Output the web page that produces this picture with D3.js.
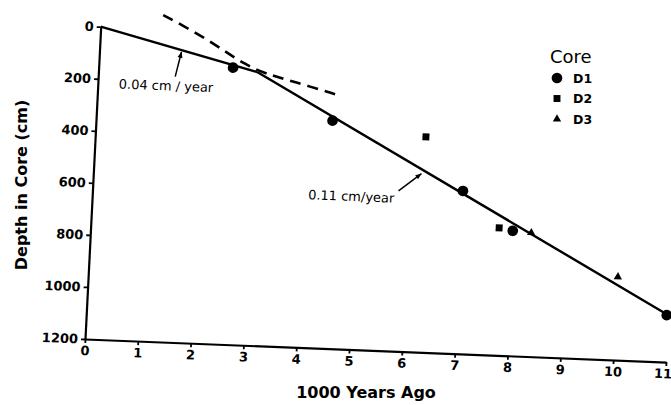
<!DOCTYPE html>
<html>
<head>
<meta charset="utf-8">
<script src="https://cdn.jsdelivr.net/npm/d3@7"></script>
<style>
  html, body { margin: 0; padding: 0; background: #fff; }
  svg { display: block; }
</style>
</head>
<body>
<svg id="chart" width="671" height="405"></svg>
<script>
// ---- data ----
const xTicks = [0, 1, 2, 3, 4, 5, 6, 7, 8, 9, 10, 11];
const yTicks = [0, 200, 400, 600, 800, 1000, 1200];

const d1Age   = [2.54, 4.47, 7.0, 7.98, 10.97];
const d1Depth = [137, 325, 575, 720, 1020];
const d2Age   = [6.25, 7.72];
const d2Depth = [373, 711];
const d3Age   = [8.33, 10.01];
const d3Depth = [725, 881];

const upperFitAge   = [0, 3.0];
const upperFitDepth = [0, 150];
const lowerFitAge   = [3.0, 11];
const lowerFitDepth = [150, 1020];

const dashAge   = [1.17, 2.01, 2.80, 3.31, 3.69, 4.55];
const dashDepth = [-54, 28, 131, 163, 181, 226];

const legendLabels = ["D1", "D2", "D3"];
const rateLabels = ["0.04 cm / year", "0.11 cm/year"];
const rateAge = [1.55, 6.2];
const rateDepth = [84, 515];

// ---- drawing ----
const svg = d3.select("#chart");
const W = 581, H = 312.3;
const x = d3.scaleLinear().domain([0, 11]).range([0, W]);
const y = d3.scaleLinear().domain([0, 1200]).range([-H, 0]);

// the scanned figure is slightly skewed; reproduce with an affine transform
const g = svg.append("g")
  .attr("transform", "matrix(1,0.0396,-0.0503,1,85,339)");

const tickFont = "'DejaVu Sans', sans-serif";

const xAxis = d3.axisBottom(x).tickValues(xTicks).tickFormat(d3.format("d"))
  .tickSizeInner(4).tickSizeOuter(0).tickPadding(3);
const yAxis = d3.axisLeft(y).tickValues(yTicks).tickFormat(d3.format("d"))
  .tickSizeInner(4).tickSizeOuter(0).tickPadding(3);

const gx = g.append("g").call(xAxis);
const gy = g.append("g").call(yAxis);
[gx, gy].forEach(a => {
  a.select(".domain").attr("stroke", "#000").attr("stroke-width", 2.2);
  a.selectAll(".tick line").attr("stroke", "#000").attr("stroke-width", 1.8);
  a.selectAll(".tick text").attr("fill", "#000")
    .style("font-family", tickFont).style("font-weight", "bold").style("font-size", "13px");
});
// keep the last x label inside the frame
gx.selectAll(".tick text").filter(d => d === 11).attr("dx", "-3");

const line = d3.line().x(d => x(d[0])).y(d => y(d[1]));
const zip = (a, b) => a.map((v, i) => [v, b[i]]);

g.append("path").datum(zip(upperFitAge, upperFitDepth)).attr("d", line)
  .attr("fill", "none").attr("stroke", "#000").attr("stroke-width", 2.4);
g.append("path").datum(zip(lowerFitAge, lowerFitDepth)).attr("d", line)
  .attr("fill", "none").attr("stroke", "#000").attr("stroke-width", 2.4);
g.append("path").datum(zip(dashAge, dashDepth))
  .attr("d", d3.line().x(d => x(d[0])).y(d => y(d[1])).curve(d3.curveBasis))
  .attr("fill", "none").attr("stroke", "#000").attr("stroke-width", 2.6)
  .attr("stroke-dasharray", "11,7");

const sym = {
  D1: d3.symbol().type(d3.symbolCircle).size(90),
  D2: d3.symbol().type(d3.symbolSquare).size(48),
  D3: d3.symbol().type(d3.symbolTriangle).size(30)
};
const series = [
  { key: "D1", ages: d1Age, depths: d1Depth },
  { key: "D2", ages: d2Age, depths: d2Depth },
  { key: "D3", ages: d3Age, depths: d3Depth }
];
series.forEach(s => {
  g.selectAll(null).data(zip(s.ages, s.depths)).enter().append("path")
    .attr("d", sym[s.key]())
    .attr("transform", d => `translate(${x(d[0])},${y(d[1])})`)
    .attr("fill", "#000");
});

// rate annotations with arrows
const arrowOff = [[-5, 25], [-22, 18]];
const textOff = [[-61, 39], [-112, 30]];
rateLabels.forEach((lab, i) => {
  const tx = x(rateAge[i]), ty = y(rateDepth[i]);
  const sx = tx + arrowOff[i][0], sy = ty + arrowOff[i][1];
  g.append("line").attr("x1", sx).attr("y1", sy).attr("x2", tx).attr("y2", ty)
    .attr("stroke", "#000").attr("stroke-width", 1.5);
  const ang = Math.atan2(ty - sy, tx - sx);
  const L = 6, wdt = 2.5;
  const bx = tx - L * Math.cos(ang), by = ty - L * Math.sin(ang);
  const px = -Math.sin(ang) * wdt, py = Math.cos(ang) * wdt;
  g.append("path")
    .attr("d", `M${tx},${ty}L${bx + px},${by + py}L${bx - px},${by - py}Z`)
    .attr("fill", "#000");
  g.append("text").attr("x", tx + textOff[i][0]).attr("y", ty + textOff[i][1])
    .text(lab).style("font-family", tickFont).style("font-size", "13px")
    .style("font-weight", "normal").attr("fill", "#000");
});

// axis titles
svg.append("text").attr("transform", "translate(27,185) rotate(-90)")
  .attr("text-anchor", "middle").text("Depth in Core (cm)")
  .style("font-family", tickFont).style("font-weight", "bold").style("font-size", "16px");
svg.append("text").attr("x", 366).attr("y", 398).attr("text-anchor", "middle")
  .text("1000 Years Ago")
  .style("font-family", tickFont).style("font-weight", "bold").style("font-size", "16px");

// legend
const lg = svg.append("g").attr("transform", "translate(550,0)");
lg.append("text").attr("x", 0).attr("y", 63).text("Core")
  .style("font-family", tickFont).style("font-size", "18px").attr("fill", "#000");
legendLabels.forEach((lab, i) => {
  const yy = 78 + i * 20.5;
  lg.append("path").attr("d", sym[lab]()).attr("transform", `translate(7,${yy})`).attr("fill", "#000");
  lg.append("text").attr("x", 23).attr("y", yy + 4.5).text(lab)
    .style("font-family", tickFont).style("font-weight", "bold").style("font-size", "12.5px");
});
</script>
</body>
</html>
